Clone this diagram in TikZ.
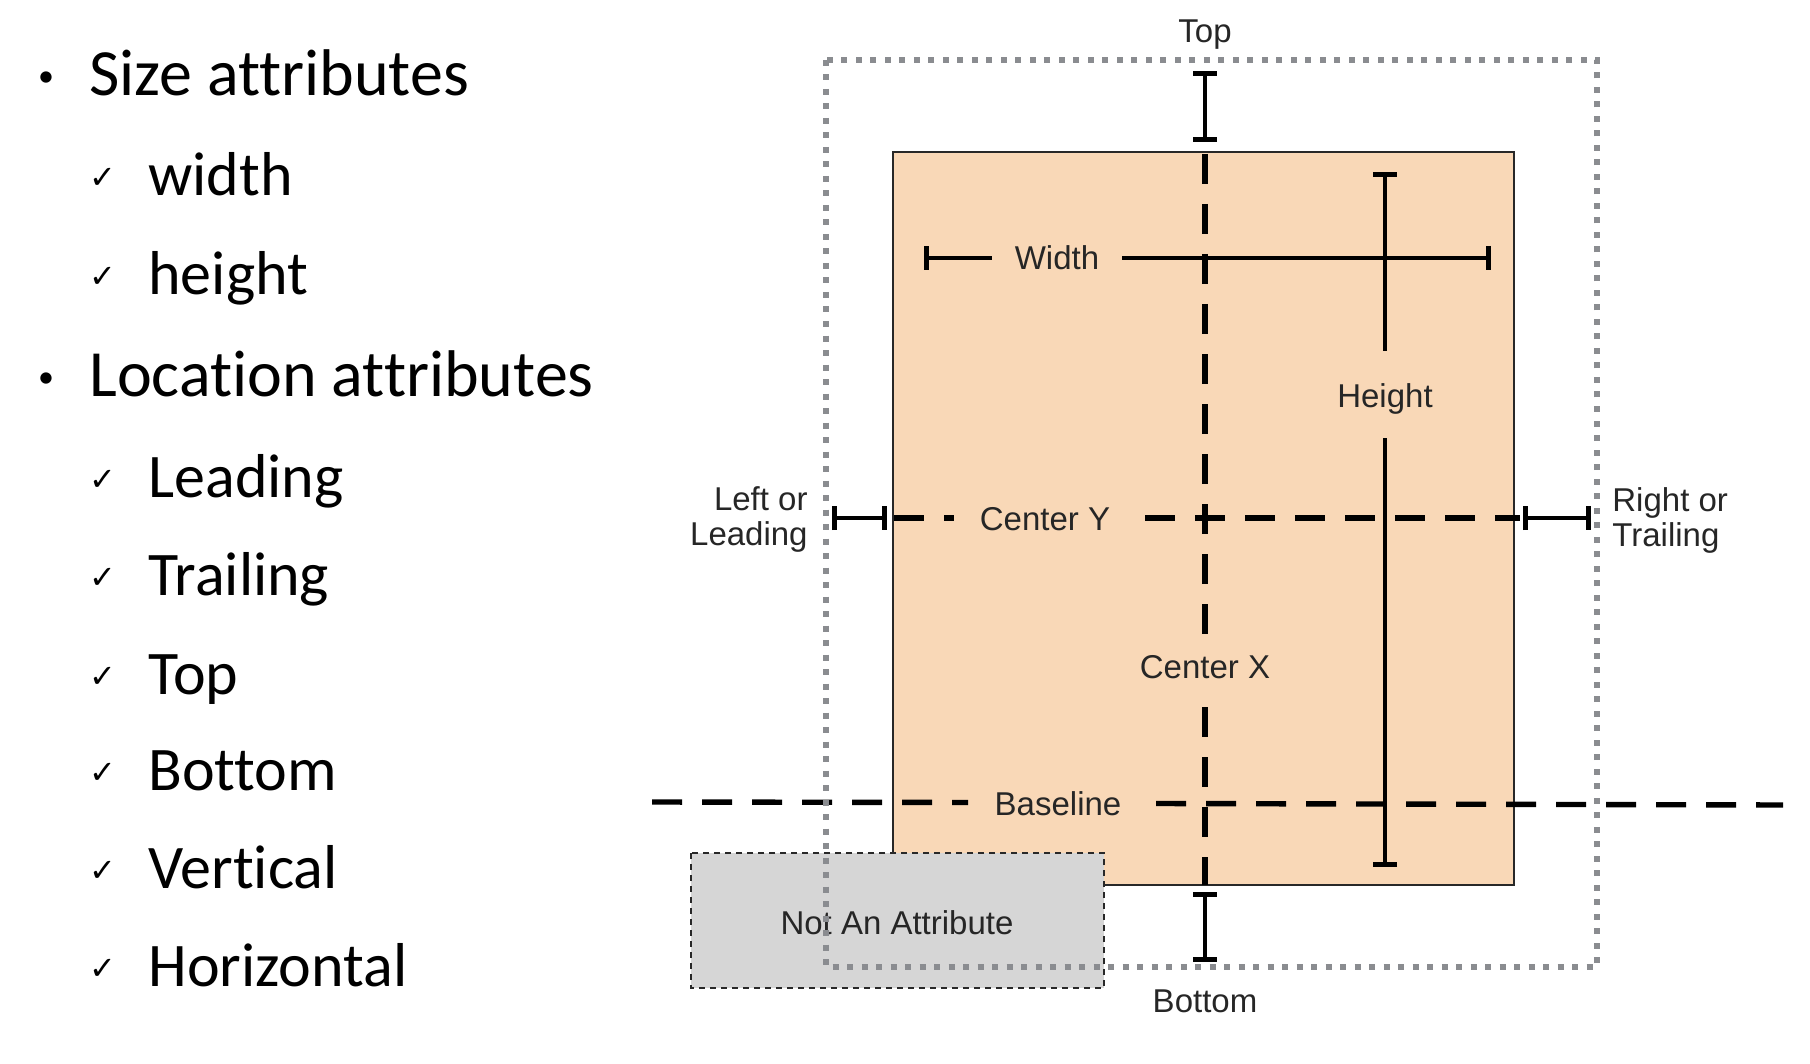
\documentclass[tikz,border=0pt]{standalone}
\usepackage{fontspec}
\setmainfont{Liberation Sans}
\newfontfamily\listfont[Ligatures=NoCommon]{Carlito}
\newfontfamily\symfont{DejaVu Sans}
\usetikzlibrary{arrows.meta}
\definecolor{peach}{RGB}{249,216,183}
\definecolor{boxgray}{RGB}{214,214,214}
\definecolor{dotgray}{RGB}{138,140,144}
\definecolor{edgegray}{RGB}{40,40,40}
\begin{document}
\begin{tikzpicture}[x=0.5pt,y=-0.5pt,
  lbl/.style={font=\fontsize{16.5}{17.5}\selectfont, inner sep=0pt, text=black!85},
  solidline/.style={line width=2.4pt, draw=black},
  capboth/.style={solidline, {Bar[width=12pt]}-{Bar[width=12pt]}},
  capstart/.style={solidline, {Bar[width=12pt]}-},
  capend/.style={solidline, -{Bar[width=12pt]}},
  dashline/.style={line width=2.7pt, draw=black, dash pattern=on 15pt off 10pt},
  dotbox/.style={draw=dotgray, line width=3pt, dash pattern=on 3pt off 4.25pt},
  greybox/.style={fill=boxgray, draw=edgegray, line width=0.9pt, dash pattern=on 3pt off 2.5pt},
  viewbox/.style={fill=peach, draw=edgegray, line width=1.2pt},
  item/.style={font=\listfont\fontsize{33}{36}\selectfont, inner sep=0pt, anchor=base west},
  subitem/.style={font=\listfont\fontsize{31}{34}\selectfont, inner sep=0pt, anchor=base west},
  bulletmark/.style={font=\listfont\fontsize{16}{18}\selectfont, inner sep=0pt, anchor=base},
  checkmark/.style={font=\symfont\fontsize{16}{18}\selectfont, inner sep=0pt, anchor=base west}
]
\useasboundingbox (0,0) rectangle (1810,1064);

% ---------- bullet list ----------
\node[bulletmark] (b1) at (46,87) {•};
\node[item] (t1) at (89,96) {Size attributes};
\node[checkmark] (c1) at (89,189) {✓};
\node[subitem] (t2) at (148,196) {width};
\node[checkmark] (c2) at (89,288) {✓};
\node[subitem] (t3) at (148,295) {height};
\node[bulletmark] (b2) at (46,387) {•};
\node[item] (t4) at (89,396) {Location attributes};
\node[checkmark] (c3) at (89,490) {✓};
\node[subitem] (t5) at (148,497) {Leading};
\node[checkmark] (c4) at (89,588) {✓};
\node[subitem] (t6) at (148,595) {Trailing};
\node[checkmark] (c5) at (89,687) {✓};
\node[subitem] (t7) at (148,694) {Top};
\node[checkmark] (c6) at (89,783) {✓};
\node[subitem] (t8) at (148,790) {Bottom};
\node[checkmark] (c7) at (89,881) {✓};
\node[subitem] (t9) at (148,888) {Vertical};
\node[checkmark] (c8) at (89,979) {✓};
\node[subitem] (t10) at (148,986) {Horizontal};

% ---------- view rectangle ----------
\coordinate (v1) at (893,152);
\coordinate (v2) at (1514,885);
\draw[viewbox] (v1) rectangle (v2);

% top / bottom margins
\coordinate (topA) at (1205,71);
\coordinate (topB) at (1205,142);
\draw[capboth] (topA) -- (topB);
\coordinate (botA) at (1205,892);
\coordinate (botB) at (1205,962);
\draw[capboth] (botA) -- (botB);

% center X
\coordinate (cxA) at (1205,154);
\coordinate (cxB) at (1205,634);
\coordinate (cxC) at (1205,707);
\coordinate (cxD) at (1205,885);
\draw[dashline] (cxA) -- (cxB);
\draw[dashline] (cxC) -- (cxD);
\node[lbl, anchor=base] (lcx) at (1205,678) {Center X};

% width
\coordinate (wA) at (924,258);
\coordinate (wB) at (992,258);
\coordinate (wC) at (1122,258);
\coordinate (wD) at (1491,258);
\draw[capstart] (wA) -- (wB);
\draw[capend] (wC) -- (wD);
\node[lbl, anchor=base] (lw) at (1057,270) {Width};

% height
\coordinate (hA) at (1385,172);
\coordinate (hB) at (1385,351);
\coordinate (hC) at (1385,438);
\coordinate (hD) at (1385,867);
\draw[capstart] (hA) -- (hB);
\draw[capend] (hC) -- (hD);
\node[lbl, anchor=base] (lh) at (1385,408) {Height};

% center Y
\coordinate (lbA) at (832,518);
\coordinate (lbB) at (887,518);
\draw[capboth] (lbA) -- (lbB);
\coordinate (cyA) at (894,518);
\coordinate (cyB) at (954,518);
\coordinate (cyC) at (1145,518);
\coordinate (cyD) at (1520,518);
\draw[dashline] (cyA) -- (cyB);
\draw[dashline] (cyC) -- (cyD);
\node[lbl, anchor=base] (lcy) at (1045,530) {Center Y};
\coordinate (rbA) at (1523,518);
\coordinate (rbB) at (1591,518);
\draw[capboth] (rbA) -- (rbB);

\node[lbl, anchor=base east, align=right] (ll) at (808,545) {Left or\\Leading};
\node[lbl, anchor=base west, align=left] (lr) at (1612,546) {Right or\\Trailing};

% baseline
\coordinate (blA) at (652,802);
\coordinate (blB) at (968,802.5);
\coordinate (blC) at (1156,803.5);
\coordinate (blD) at (1783,805);
\draw[dashline] (blA) -- (blB);
\draw[dashline] (blC) -- (blD);
\node[lbl, anchor=base] (lbl) at (1058,815) {Baseline};

% labels top / bottom
\node[lbl, anchor=base] (ltop) at (1205,43) {Top};
\node[lbl, anchor=base] (lbot) at (1205,1012) {Bottom};

% not an attribute box
\coordinate (g1) at (691,853);
\coordinate (g2) at (1104,988);
\draw[greybox] (g1) rectangle (g2);
\node[lbl, anchor=base] (lna) at (897,934) {Not An Attribute};

% alignment rectangle (dotted)
\coordinate (d1) at (826,60);
\coordinate (d2) at (1597,967);
\draw[dotbox] (d1) rectangle (d2);
\end{tikzpicture}
\end{document}
